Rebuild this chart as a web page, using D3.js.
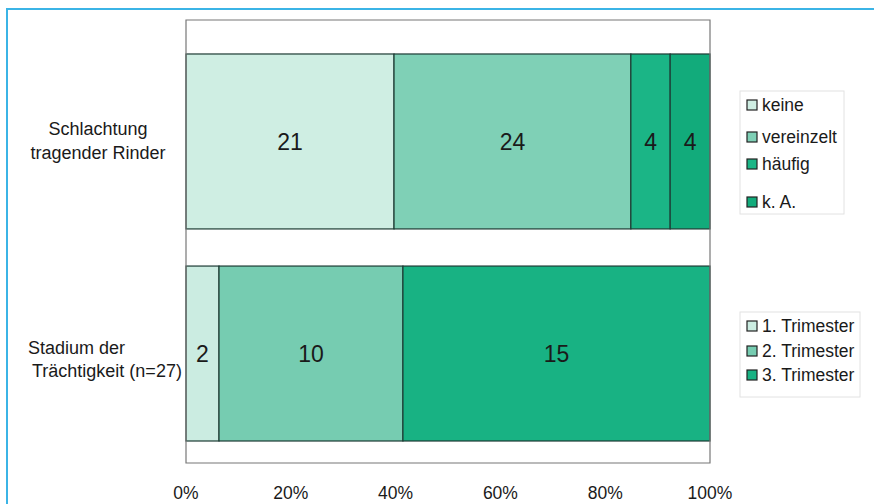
<!DOCTYPE html>
<html>
<head>
<meta charset="utf-8">
<script src="https://cdn.jsdelivr.net/npm/d3@7"></script>
<style>
  body { margin: 0; background: #fff; }
  text { font-family: "Liberation Sans", Arial, sans-serif; fill: #1a1a1a; }
</style>
</head>
<body>
<script>
// categories (top to bottom)
var categories = ["Schlachtung", "Stadium"]

// row 1: Schlachtung tragender Rinder
var slaughterNames = ["keine", "vereinzelt", "häufig", "k. A."]
var slaughterCounts = [21, 24, 4, 4]
var slaughterShare = [39.7, 45.2, 7.5, 7.6]   // percent

// row 2: Stadium der Trächtigkeit
var stageNames = ["1. Trimester", "2. Trimester", "3. Trimester"]
var stageCounts = [2, 10, 15]
var stageShare = [6.3, 35.1, 58.6]   // percent

var xTicks = [0, 20, 40, 60, 80, 100]

var slaughterColors = ["#cfeee3", "#7fd0b6", "#1bb586", "#12ab7b"]
var stageColors = ["#cbece1", "#76ccb1", "#18b283"]

var width = 874, height = 504
var plotLeft = 186, plotRight = 710, plotTop = 20, plotBottom = 463

var svg = d3.select("body").append("svg")
  .attr("width", width)
  .attr("height", height)

// blue outer frame
svg.append("rect")
  .attr("x", 7).attr("y", 9)
  .attr("width", 900).attr("height", 520)
  .attr("fill", "none")
  .attr("stroke", "#3bb4e6")
  .attr("stroke-width", 2)

var x = d3.scaleLinear().domain([0, 100]).range([plotLeft, plotRight])
var y = d3.scaleBand().domain(categories).range([plotTop, plotBottom])
  .paddingInner(0.175).paddingOuter(0.132).align(0.607)

// stacked segments
function stackRow(names, counts, share, colors, cat) {
  var start = 0
  var rows = names.map(function (n, i) {
    var r = { name: n, count: counts[i], x0: start, x1: start + share[i], color: colors[i] }
    start += share[i]
    return r
  })
  var g = svg.append("g")
  g.selectAll("rect")
    .data(rows)
    .enter()
    .append("rect")
    .attr("x", function (d) { return x(d.x0) })
    .attr("width", function (d) { return x(d.x1) - x(d.x0) })
    .attr("y", y(cat))
    .attr("height", y.bandwidth())
    .attr("fill", function (d) { return d.color })
    .attr("stroke", "#1d3b34")
    .attr("stroke-width", 1.2)
  g.selectAll("text")
    .data(rows)
    .enter()
    .append("text")
    .attr("x", function (d) { return (x(d.x0) + x(d.x1)) / 2 })
    .attr("y", y(cat) + y.bandwidth() / 2)
    .attr("text-anchor", "middle")
    .attr("dy", "0.35em")
    .style("font-size", "23px")
    .text(function (d) { return d.count })
}

stackRow(slaughterNames, slaughterCounts, slaughterShare, slaughterColors, "Schlachtung")
stackRow(stageNames, stageCounts, stageShare, stageColors, "Stadium")

// plot frame
svg.append("path")
  .attr("d", "M" + plotLeft + "," + plotBottom + "V" + plotTop + "H" + plotRight + "V" + plotBottom + "Z")
  .attr("fill", "none")
  .attr("stroke", "#777")
  .attr("stroke-width", 1.2)

// x axis labels
svg.selectAll(".tick")
  .data(xTicks)
  .enter()
  .append("text")
  .attr("class", "tick")
  .attr("x", function (d) { return x(d) })
  .attr("y", 493)
  .attr("dy", "0.35em")
  .attr("text-anchor", "middle")
  .style("font-size", "17.5px")
  .text(function (d) { return d + "%" })

// category labels
var catLabel = svg.append("g").style("font-size", "18px")
catLabel.append("text").attr("x", 98).attr("y", 135).attr("text-anchor", "middle").text("Schlachtung")
catLabel.append("text").attr("x", 98).attr("y", 159).attr("text-anchor", "middle").text("tragender Rinder")
catLabel.append("text").attr("x", 28).attr("y", 354).text("Stadium der")
catLabel.append("text").attr("x", 32).attr("y", 377).text("Trächtigkeit (n=27)")

// legends
function legend(names, colors, x0, y0, w, h, ys) {
  var g = svg.append("g")
  g.append("rect")
    .attr("x", x0).attr("y", y0).attr("width", w).attr("height", h)
    .attr("fill", "#fff").attr("stroke", "#e2e2e2")
  var items = g.selectAll("g.item")
    .data(names)
    .enter()
    .append("g")
    .attr("transform", function (d, i) { return "translate(" + (x0 + 7) + "," + ys[i] + ")" })
  items.append("rect")
    .attr("x", 0).attr("y", -5).attr("width", 10).attr("height", 10)
    .attr("fill", function (d, i) { return colors[i] })
    .attr("stroke", "#222").attr("stroke-width", 1.2)
  items.append("text")
    .attr("x", 15).attr("dy", "0.35em")
    .style("font-size", "17.5px")
    .text(function (d) { return d })
}

legend(slaughterNames, slaughterColors, 740, 91, 104, 123, [105, 137, 164, 202])
legend(stageNames, stageColors, 740, 312, 120, 85, [326, 351, 375])
</script>
</body>
</html>
